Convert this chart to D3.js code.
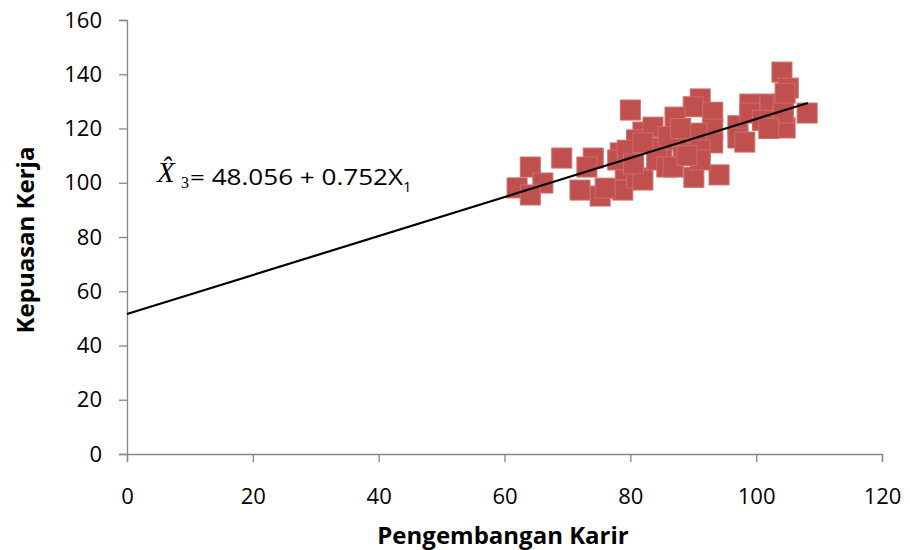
<!DOCTYPE html>
<html>
<head>
<meta charset="utf-8">
<script src="https://cdn.jsdelivr.net/npm/d3@7"></script>
<style>
  body { margin: 0; background: #fff; }
  text { font-family: "Open Sans", sans-serif; }
</style>
</head>
<body>
<svg id="chart" width="910" height="550"></svg>
<script>
// Pengembangan Karir (x) vs Kepuasan Kerja (y)
const karir = [104.1, 105.1, 108.1, 80.0, 91.1, 90.0, 93.1, 93.1, 93.1, 99.0,
  102.2, 104.3, 97.1, 97.1, 98.2, 104.6, 94.1, 90.1, 87.1, 82.0,
  81.0, 69.1, 74.1, 73.1, 64.1, 62.0, 66.1, 64.1, 72.0, 75.2,
  78.8, 78.4, 79.2, 81.0, 82.0, 85.0, 84.2, 85.8, 87.4, 88.4,
  90.6, 91.1, 91.1, 86.8, 83.6, 78.0, 79.5, 82.0, 99.0, 101.0,
  104.6, 104.3, 102.0, 76.0, 89.0, 86.0, 80.5, 88.0];
const kepuasan = [140.8, 134.9, 125.7, 126.8, 130.9, 128.0, 126.0, 119.8, 114.7, 129.0,
  129.0, 129.0, 121.0, 116.5, 115.0, 120.2, 102.9, 102.0, 124.2, 118.7,
  115.8, 109.1, 109.1, 105.8, 105.8, 98.1, 99.9, 95.5, 97.3, 95.1,
  97.3, 111.0, 104.7, 101.8, 101.0, 112.8, 108.4, 105.8, 115.8, 113.2,
  118.3, 112.0, 108.4, 105.8, 120.5, 108.4, 112.0, 114.7, 125.7, 123.0,
  133.0, 125.7, 120.0, 98.0, 110.0, 117.0, 107.0, 120.0];

// drawn regression line, end points
const lineX = [0, 108.2];
const lineY = [51.6, 129.4];

const xTicks = [0, 20, 40, 60, 80, 100, 120];
const yTicks = [0, 20, 40, 60, 80, 100, 120, 140, 160];

const margin = { top: 20, right: 28, bottom: 96, left: 127 };
const width = 910, height = 550;

const svg = d3.select("#chart");

const x = d3.scaleLinear().domain([0, 120]).range([margin.left, width - margin.right]);
const y = d3.scaleLinear().domain([0, 160]).range([height - margin.bottom, margin.top]);

const axisColor = "#868686";

const gx = svg.append("g")
    .attr("transform", `translate(0,${y(0)})`)
    .call(d3.axisBottom(x).tickValues(xTicks).tickSize(8).tickPadding(26).tickFormat(d3.format("d")));
const gy = svg.append("g")
    .attr("transform", `translate(${x(0)},0)`)
    .call(d3.axisLeft(y).tickValues(yTicks).tickSize(8).tickPadding(17).tickFormat(d3.format("d")));

[gx, gy].forEach(g => {
  g.select(".domain").attr("stroke", axisColor).attr("stroke-width", 1.3);
  g.selectAll(".tick line").attr("stroke", axisColor).attr("stroke-width", 1.3);
  g.selectAll(".tick text")
    .attr("fill", "#000")
    .style("font-family", "'Open Sans', sans-serif")
    .style("font-size", "22px");
});

// points
const pts = d3.zip(karir, kepuasan);
const s = 20;
svg.append("g")
  .selectAll("rect")
  .data(pts)
  .join("rect")
  .attr("x", d => x(d[0]) - s / 2)
  .attr("y", d => y(d[1]) - s / 2)
  .attr("width", s)
  .attr("height", s)
  .attr("fill", "#C0504D")
  .attr("stroke", "#CF6C69")
  .attr("stroke-width", 1);

// regression line
svg.append("path")
  .datum(d3.zip(lineX, lineY))
  .attr("d", d3.line().x(d => x(d[0])).y(d => y(d[1])))
  .attr("fill", "none")
  .attr("stroke", "#000")
  .attr("stroke-width", 2.2);

// equation
const eq = svg.append("g");
eq.append("text")
  .attr("x", 157).attr("y", 182)
  .style("font-family", "'Liberation Serif', serif")
  .style("font-style", "italic")
  .style("font-size", "29px")
  .text("X\u0302");
eq.append("text")
  .attr("x", 181).attr("y", 188)
  .style("font-family", "'Liberation Serif', serif")
  .style("font-size", "16px")
  .text("3");
eq.append("text")
  .attr("x", 190).attr("y", 185)
  .attr("textLength", 213)
  .attr("lengthAdjust", "spacingAndGlyphs")
  .style("font-size", "22px")
  .text("= 48.056 + 0.752X");
eq.append("text")
  .attr("x", 403).attr("y", 192)
  .style("font-size", "15px")
  .text("1");

// axis titles
svg.append("text")
  .attr("x", 503).attr("y", 544)
  .attr("text-anchor", "middle")
  .style("font-weight", "bold")
  .style("font-size", "24px")
  .text("Pengembangan Karir");
svg.append("text")
  .attr("transform", "translate(34,240) rotate(-90)")
  .attr("text-anchor", "middle")
  .style("font-weight", "bold")
  .style("font-size", "24px")
  .text("Kepuasan Kerja");
</script>
</body>
</html>
